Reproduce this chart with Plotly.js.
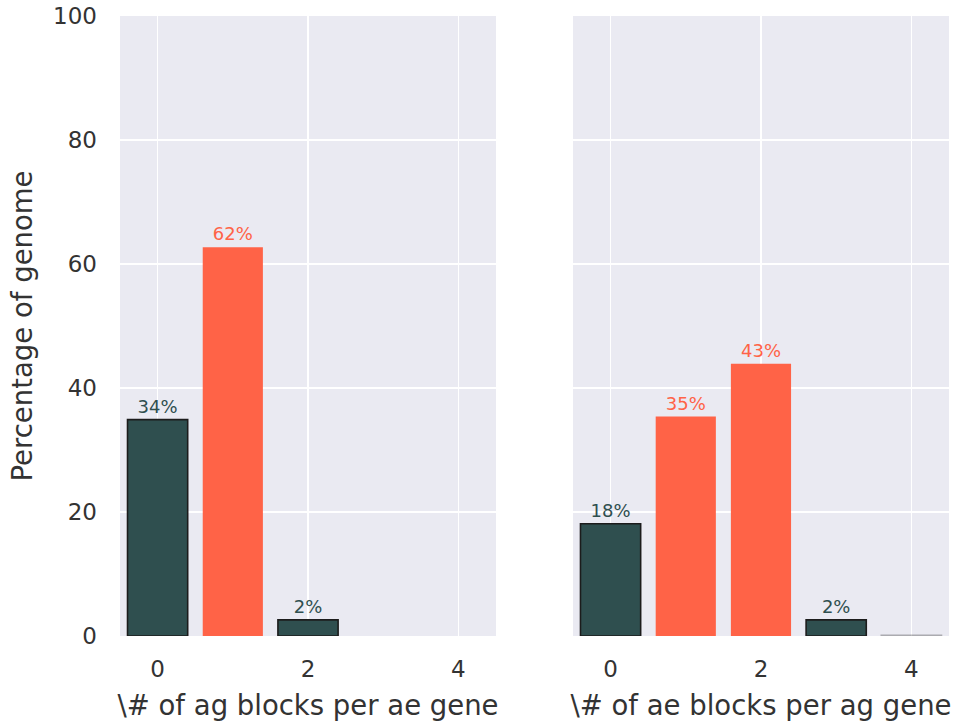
<!DOCTYPE html>
<html>
<head>
<meta charset="utf-8">
<script src="https://cdn.plot.ly/plotly-3.0.1.min.js"></script>
<style>
  html, body { margin: 0; padding: 0; background: #ffffff; }
  #chart { width: 960px; height: 727px; }
</style>
</head>
<body>
<div id="chart"></div>
<script>
// Block counts per gene (x) and share of the genome (%) for each direction
const agPerAeCounts = [0, 1, 2];
const agPerAePercent = [34.9, 62.7, 2.6];
const agPerAeSyntenic = [false, true, false];

const aePerAgCounts = [0, 1, 2, 3, 4];
const aePerAgPercent = [18.1, 35.4, 43.9, 2.6, 0.1];
const aePerAgSyntenic = [false, true, true, false, false];

const xTickValues = [0, 2, 4];
const yTickValues = [0, 20, 40, 60, 80, 100];

const leftTitle = '\\# of ag blocks per ae gene';
const rightTitle = '\\# of ae blocks per ag gene';
const yTitle = 'Percentage of genome';

const DARK = '#2f4f4f';
const TOMATO = '#ff6347';
const FONT = 'DejaVu Sans, sans-serif';
const TEXT = '#333333';

function barTrace(x, y, flags, xa, ya) {
  return {
    type: 'bar',
    x: x,
    y: y,
    xaxis: xa,
    yaxis: ya,
    width: 0.8,
    text: y.map(v => v >= 1 ? Math.floor(v) + '%' : ''),
    textposition: 'outside',
    constraintext: 'none',
    cliponaxis: false,
    textfont: { family: FONT, size: 18, color: flags.map(f => f ? TOMATO : DARK) },
    marker: {
      color: flags.map(f => f ? TOMATO : DARK),
      opacity: y.map(v => v >= 1 ? 1 : 0.3),
      line: { color: flags.map(f => f ? TOMATO : '#1c1c1c'), width: flags.map(f => f ? 0 : 1.6) }
    },
    hoverinfo: 'x+y',
    showlegend: false
  };
}

const xBase = {
  range: [-0.5, 4.5],
  tickmode: 'array',
  tickvals: xTickValues,
  ticktext: xTickValues.map(String),
  showgrid: true,
  gridcolor: '#ffffff',
  gridwidth: 1.6,
  zeroline: false,
  showline: false,
  ticks: '',
  ticklabelstandoff: 17,
  tickfont: { family: FONT, size: 23, color: TEXT },
  fixedrange: true
};

const yBase = {
  range: [0, 100],
  tickmode: 'array',
  tickvals: yTickValues,
  showgrid: true,
  gridcolor: '#ffffff',
  gridwidth: 1.6,
  zeroline: false,
  showline: false,
  ticks: '',
  fixedrange: true
};

const layout = {
  width: 960,
  height: 727,
  margin: { l: 120, r: 11, t: 16, b: 91 },
  paper_bgcolor: '#ffffff',
  plot_bgcolor: '#eaeaf2',
  font: { family: FONT, color: TEXT },
  bargap: 0.2,
  xaxis: Object.assign({}, xBase, {
    domain: [0, 0.4536],
    anchor: 'y',
    title: { text: leftTitle, font: { family: FONT, size: 27.5, color: TEXT }, standoff: 14 }
  }),
  xaxis2: Object.assign({}, xBase, {
    domain: [0.5464, 1],
    anchor: 'y2',
    title: { text: rightTitle, font: { family: FONT, size: 27.5, color: TEXT }, standoff: 14 }
  }),
  yaxis: Object.assign({}, yBase, {
    domain: [0, 1],
    anchor: 'x',
    showticklabels: true,
    ticklabelstandoff: 22,
    tickfont: { family: FONT, size: 23, color: TEXT },
    title: { text: yTitle, font: { family: FONT, size: 27.5, color: TEXT }, standoff: 12 }
  }),
  yaxis2: Object.assign({}, yBase, {
    domain: [0, 1],
    anchor: 'x2',
    showticklabels: false
  })
};

Plotly.newPlot('chart', [
  barTrace(agPerAeCounts, agPerAePercent, agPerAeSyntenic, 'x', 'y'),
  barTrace(aePerAgCounts, aePerAgPercent, aePerAgSyntenic, 'x2', 'y2')
], layout, { displayModeBar: false, staticPlot: true });
</script>
</body>
</html>
